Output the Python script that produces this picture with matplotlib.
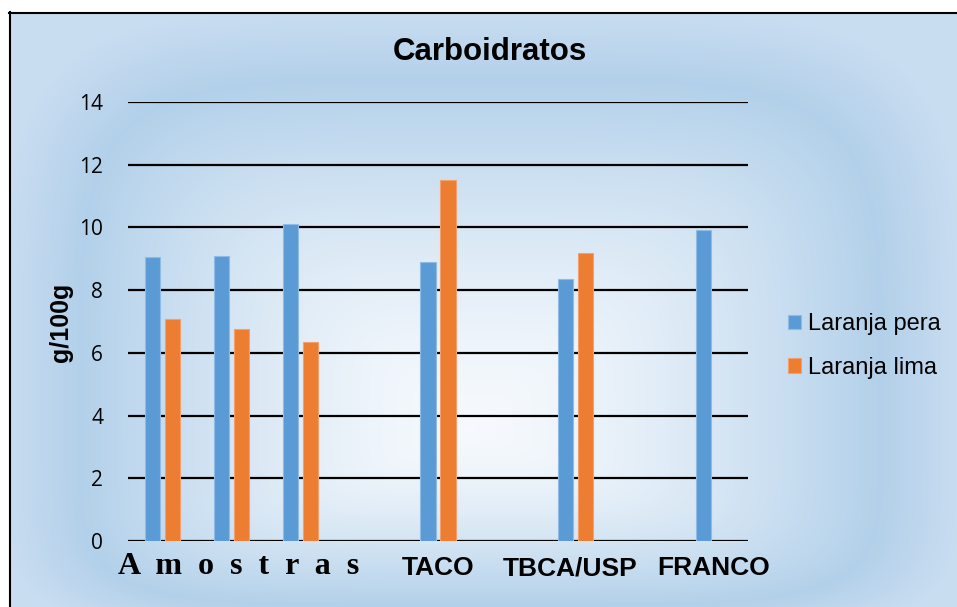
import numpy as np
import matplotlib
matplotlib.use("Agg")
import matplotlib.pyplot as plt
from matplotlib.lines import Line2D
import matplotlib.transforms as mtransforms

# data
cats = ["Amostra 1", "Amostra 2", "Amostra 3", "", "TACO", "", "TBCA/USP", "", "FRANCO"]
tick_labels = ["", "", "", "", "TACO", "", "TBCA/USP", "", "FRANCO"]
pera = [9.07, 9.10, 10.10, np.nan, 8.90, np.nan, 8.34, np.nan, 9.91]
lima = [7.07, 6.77, 6.36, np.nan, 11.51, np.nan, 9.17, np.nan, np.nan]
yticks = [0, 2, 4, 6, 8, 10, 12, 14]

W, H = 957, 607
fig = plt.figure(figsize=(W/100, H/100), dpi=100)

# background gradient (light centre, blue ring, lighter edges)
yy, xx = np.mgrid[0:H, 0:W].astype(float)
cx, cy = 470, 430
dx = np.where(xx < cx, (cx-xx)/390, (xx-cx)/410)
dy = np.where(yy < cy, (cy-yy)/350, (yy-cy)/175)
d = (dx**5 + dy**5)**0.2
c_mid = np.array([0.965, 0.978, 0.993])
c_blue = np.array([0.70, 0.818, 0.918])
c_out = np.array([0.79, 0.867, 0.945])
t1 = np.clip(d, 0, 1)[..., None]
t2 = np.clip((d-1)/0.2, 0, 1)[..., None]
img = c_mid + (c_blue-c_mid)*t1**1.5
img = img + (c_out-c_blue)*t2
img[:12, :] = 1
img[:, :9] = 1
bg = fig.add_axes([0, 0, 1, 1], zorder=-5)
bg.imshow(img, aspect="auto", extent=(0, 1, 0, 1), origin="upper")
bg.axis("off")

fig.add_artist(Line2D([9.5/W, 9.5/W], [0, 1-12/H], color="black", lw=1.5))
fig.add_artist(Line2D([9/W, 1], [1-12.5/H, 1-12.5/H], color="black", lw=1.5))

ax = fig.add_axes([128/W, 1-541/H, 620/W, 439/H])
ax.set_facecolor("none")
x = np.arange(len(cats))
bw = 0.22
ax.bar(x-0.145, pera, bw, color="#5b9bd5", edgecolor="#8fbbe4", lw=0.8, label="Laranja pera", zorder=3)
ax.bar(x+0.145, lima, bw, color="#ed7d31", edgecolor="#f2a06e", lw=0.8, label="Laranja lima", zorder=3)

ax.set_xlim(-0.5, len(cats)-0.5)
ax.set_ylim(0, 14)
ax.set_yticks(yticks)
ax.set_yticklabels([str(v) for v in yticks], family="Open Sans", fontsize=15)
ax.yaxis.grid(True, color="black", lw=1.6)
ax.set_axisbelow(True)
for s in ax.spines.values():
    s.set_visible(False)
ax.tick_params(axis="y", length=0, pad=18)
ax.set_xticks(x)
ax.set_xticklabels(tick_labels, family="Liberation Sans", fontweight="bold", fontsize=19)
ax.tick_params(axis="x", length=0, pad=11)
# TBCA/USP sits a little left of its slot in the original
lbl = ax.get_xticklabels()[6]
lbl.set_transform(lbl.get_transform() + mtransforms.ScaledTranslation(-6/100, 0, fig.dpi_scale_trans))

ax.text(1.1, -0.058, "A  m  o  s  t  r  a  s", transform=ax.get_xaxis_transform(),
        ha="center", va="center", family="Liberation Serif", fontweight="bold", fontsize=23)

fig.text(490/W, 1-52/H, "Carboidratos", ha="center", va="center",
         family="Liberation Sans", fontweight="bold", fontsize=22.5)
fig.text(61/W, 1-322/H, "g/100g", ha="center", va="center", rotation=90,
         family="Liberation Sans", fontweight="bold", fontsize=18)

ax.legend(loc="center left", bbox_to_anchor=(767/W, 1-346/H), bbox_transform=fig.transFigure,
          frameon=False, prop={"family": "Liberation Sans", "size": 17},
          handlelength=0.55, handleheight=0.55, handletextpad=0.3, labelspacing=0.92)

fig.savefig("out.png", dpi=100)
